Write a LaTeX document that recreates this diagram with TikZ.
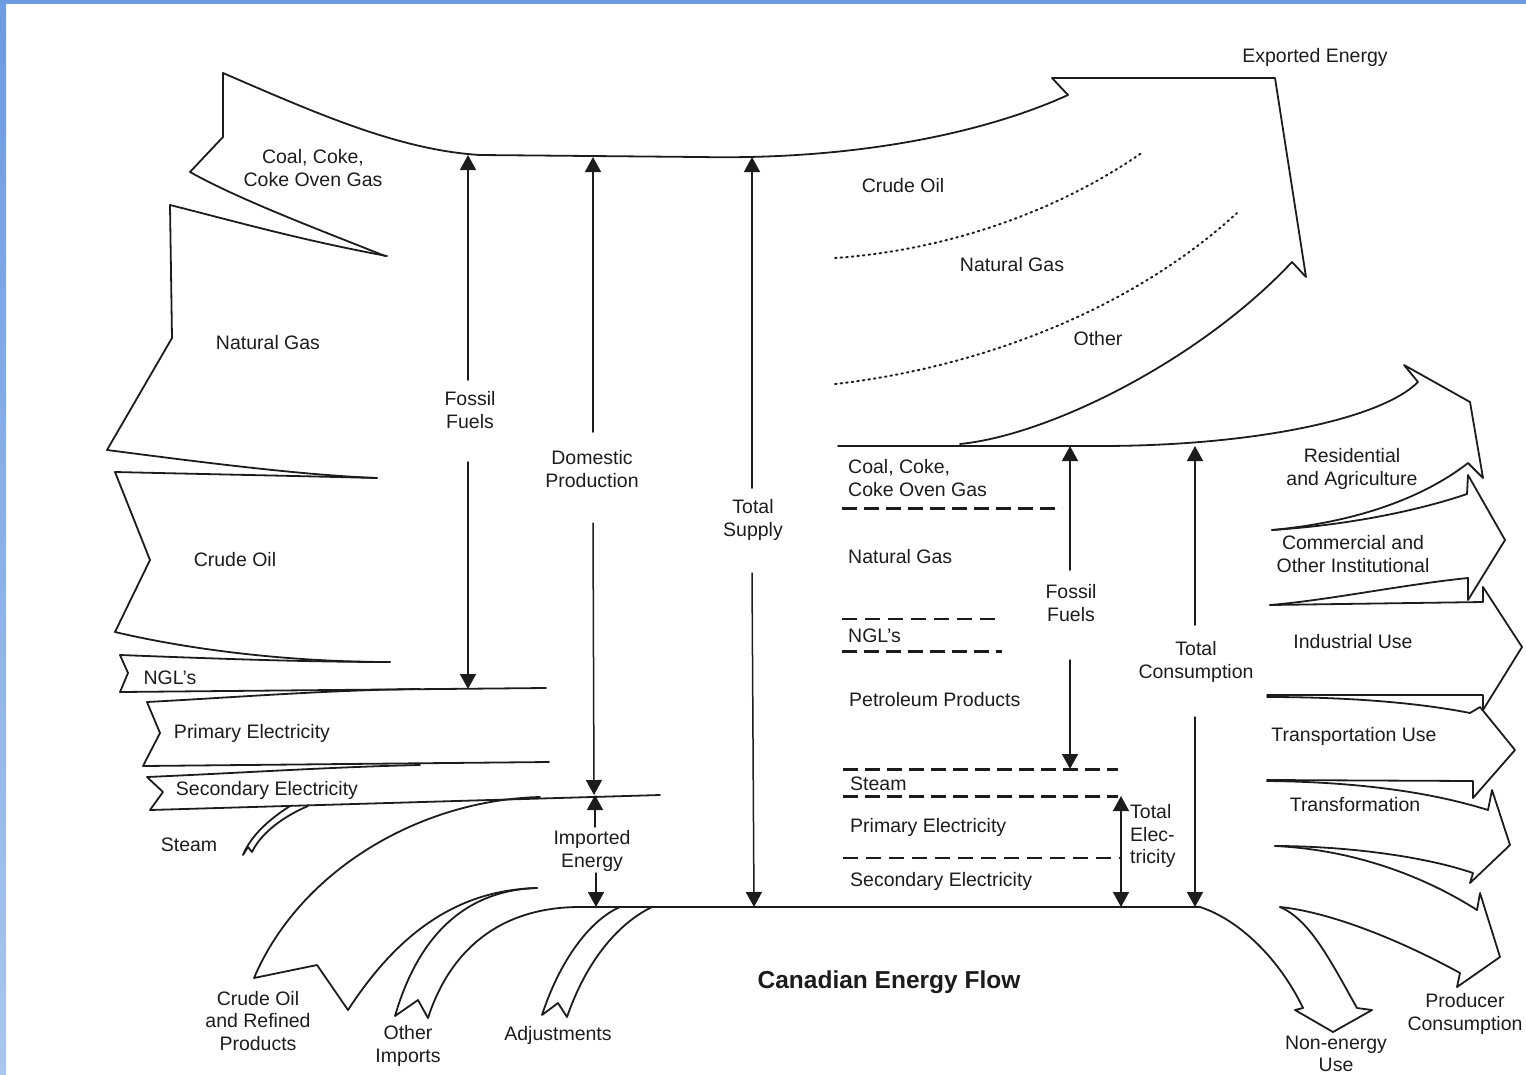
\documentclass[tikz,border=0pt]{standalone}
\usepackage{fontspec}
\setmainfont{Liberation Sans}
\usetikzlibrary{arrows.meta}
\definecolor{ink}{RGB}{28,28,28}
\definecolor{blueA}{RGB}{108,155,225}
\definecolor{blueB}{RGB}{170,198,238}
\begin{document}
\begin{tikzpicture}[x=1pt,y=-1pt,line join=round,line cap=round,
  flow/.style={draw=ink,line width=1.8pt},
  arr/.style={draw=ink,line width=1.5pt,-{Triangle[length=15pt,width=16pt]}},
  thickdash/.style={draw=ink,line width=3pt,line cap=butt,dash pattern=on 15pt off 7pt},
  thindash/.style={draw=ink,line width=2pt,line cap=butt,dash pattern=on 15pt off 8pt},
  dotline/.style={draw=ink,line width=2pt,dash pattern=on 1.6pt off 4pt},
  lbl/.style={font=\fontsize{19.5}{22.5}\selectfont,align=center,inner sep=0pt,text=ink},
  lbll/.style={lbl,align=left,anchor=west},
  ttl/.style={font=\fontsize{24.5}{28}\selectfont\bfseries,inner sep=0pt,text=ink}]
\useasboundingbox (0,0) rectangle (1526,1074);
% blue frame
\shade[top color=blueA,bottom color=blueB] (0,0) rectangle (6,1074);
\fill[blueA] (0,0) rectangle (1526,4);

% ---------- top flow: supply and exports ----------
\draw[flow] (385,256) .. controls (320,230) and (240,200) .. (190,172) -- (223,137) -- (223,73)
  .. controls (320,115) and (400,150) .. (480,155) -- (700,157)
  .. controls (850,160) and (980,135) .. (1068,95) -- (1052,78) -- (1275,78) -- (1306,277) -- (1292,262)
  .. controls (1200,360) and (1050,435) .. (960,444);
\draw[dotline] (835,258) .. controls (950,250) and (1060,210) .. (1143,152);
\draw[dotline] (835,384) .. controls (960,370) and (1120,320) .. (1237,213);

% ---------- left input arrows ----------
\draw[flow] (387,256) .. controls (300,240) and (230,220) .. (170,205) -- (172,338) -- (107,450)
  .. controls (200,462) and (300,475) .. (377,478);
\draw[flow] (377,478) .. controls (300,476) and (200,474) .. (115,472) -- (150,560) -- (115,632)
  .. controls (200,652) and (300,662) .. (390,662);
\draw[flow] (390,662) .. controls (300,662) and (200,658) .. (120,655) -- (128,673) -- (120,692) -- (546,688);
\draw[flow] (420,689) .. controls (330,690) and (240,697) .. (147,702) -- (160,733) -- (143,766) -- (549,762);
\draw[flow] (420,765) .. controls (330,767) and (240,773) .. (147,777) -- (163,792) -- (150,810) -- (660,795);
% steam
\draw[flow] (290,806) .. controls (265,822) and (250,838) .. (243,855) -- (248,847) -- (252,852)
  .. controls (260,835) and (280,818) .. (308,806);
% crude oil and refined products
\draw[flow] (540,797) .. controls (420,800) and (300,870) .. (254,978) -- (317,965) -- (348,1010)
  .. controls (400,930) and (460,890) .. (537,888);
% other imports (left edge)
\draw[flow] (537,888) .. controls (470,890) and (420,930) .. (395,1016) -- (418,1000) -- (428,1018);
% adjustments
\draw[flow] (620,907) .. controls (590,920) and (560,960) .. (542,1015) -- (558,1003) -- (567,1017)
  .. controls (585,965) and (615,925) .. (652,907);
% bottom line, non-energy use
\draw[flow] (428,1018) .. controls (450,950) and (500,907) .. (580,907) -- (1200,907)
  .. controls (1240,920) and (1280,960) .. (1303,1008) -- (1295,1010) -- (1333,1032) -- (1372,1010) -- (1357,1008)
  .. controls (1330,960) and (1310,920) .. (1280,907);

% ---------- consumption fan ----------
\draw[flow] (838,446) -- (1100,446) .. controls (1250,446) and (1380,420) .. (1418,382) -- (1404,365) -- (1470,402) -- (1483,478) -- (1468,463)
  .. controls (1440,485) and (1380,520) .. (1272,530);
\draw[flow] (1272,530) .. controls (1350,525) and (1420,510) .. (1467,494) -- (1468,475) -- (1505,540) -- (1468,600) -- (1468,578)
  .. controls (1400,585) and (1330,600) .. (1270,605);
\draw[flow] (1270,605) -- (1483,602) -- (1483,587) -- (1522,647) -- (1483,710) -- (1483,695) -- (1267,695);
\draw[flow] (1267,697) .. controls (1350,697) and (1420,703) .. (1470,713) -- (1480,707) -- (1515,750) -- (1473,798) -- (1473,781) -- (1267,780);
\draw[flow] (1267,781) .. controls (1370,782) and (1440,795) .. (1488,810) -- (1492,790) -- (1510,845) -- (1470,883) -- (1473,873)
  .. controls (1420,855) and (1340,846) .. (1275,846);
\draw[flow] (1275,846) .. controls (1360,850) and (1430,880) .. (1477,910) -- (1480,893) -- (1500,957) -- (1457,987) -- (1460,973)
  .. controls (1400,940) and (1330,912) .. (1280,907);

% dashed separators
\draw[thickdash] (842,508) -- (1062,508);
\draw[thindash] (842,619) -- (1002,619);
\draw[thickdash] (842,651) -- (1002,651);
\draw[thickdash] (843,769) -- (1118,769);
\draw[thickdash] (843,796) -- (1118,796);
\draw[thindash] (843,858) -- (1120,858);

% ---------- labels ----------
\node[lbl] (coal) at (313,168) {Coal, Coke,\\Coke Oven Gas};
\node[lbl] (ngasL) at (268,343) {Natural Gas};
\node[lbl] (crudeL) at (235,560) {Crude Oil};
\node[lbl] (nglL) at (170,678) {NGL's};
\node[lbl] (primL) at (252,733) {Primary Electricity};
\node[lbl] (secL) at (267,790) {Secondary Electricity};
\node[lbl] (steamL) at (189,845) {Steam};
\node[lbl] (crudeImp) at (258,1021) {Crude Oil\\and Refined\\Products};
\node[lbl] (othImp) at (408,1046) {Other\\Imports};
\node[lbl] (adj) at (558,1035) {Adjustments};
\node[lbl] (ffL) at (470,410) {Fossil\\Fuels};
\node[lbl] (dom) at (592,469) {Domestic\\Production};
\node[lbl] (tsup) at (753,520) {Total\\Supply};
\node[lbl] (imp) at (592,851) {Imported\\Energy};
\node[lbl] (expo) at (1315,57) {Exported Energy};
\node[lbl] (crudeX) at (903,186) {Crude Oil};
\node[lbl] (ngX) at (1012,265) {Natural Gas};
\node[lbl] (othX) at (1098,339) {Other};
\node[lbll] (coalR) at (848,478) {Coal, Coke,\\Coke Oven Gas};
\node[lbll] (ngR) at (848,557) {Natural Gas};
\node[lbll] (nglR) at (848,636) {NGL's};
\node[lbll] (petR) at (849,700) {Petroleum Products};
\node[lbll] (steamR) at (850,784) {Steam};
\node[lbll] (primR) at (850,827) {Primary Electricity};
\node[lbll] (secR) at (850,881) {Secondary Electricity};
\node[lbl] (ffR) at (1071,603) {Fossil\\Fuels};
\node[lbl] (tcons) at (1196,662) {Total\\Consumption};
\node[lbll] (tel) at (1130,836) {Total\\Elec-\\tricity};
\node[lbl] (res) at (1352,469) {Residential\\and Agriculture};
\node[lbl] (com) at (1353,554) {Commercial and\\Other Institutional};
\node[lbl] (ind) at (1353,642) {Industrial Use};
\node[lbl] (tra) at (1354,736) {Transportation Use};
\node[lbl] (tfm) at (1355,805) {Transformation};
\node[lbl] (prod) at (1465,1014) {Producer\\Consumption};
\node[lbl] (nonen) at (1336,1054) {Non-energy\\Use};
\node[ttl] (title) at (889,982) {Canadian Energy Flow};

% ---------- measuring arrows ----------
\coordinate (ffLt) at (468,155); \coordinate (ffLa) at (468,380);
\coordinate (ffLb) at (468,462); \coordinate (ffLe) at (468,689);
\draw[arr] (ffLa) -- (ffLt);  \draw[arr] (ffLb) -- (ffLe);
\coordinate (domt) at (593,157); \coordinate (doma) at (593,432);
\coordinate (domb) at (593,523); \coordinate (dome) at (594,795);
\draw[arr] (doma) -- (domt);  \draw[arr] (domb) -- (dome);
\coordinate (tsupt) at (752,157); \coordinate (tsupa) at (752,488);
\coordinate (tsupb) at (752,573); \coordinate (tsupe) at (754,907);
\draw[arr] (tsupa) -- (tsupt);  \draw[arr] (tsupb) -- (tsupe);
\coordinate (impt) at (595,795); \coordinate (impa) at (595,827);
\coordinate (impb) at (596,873); \coordinate (impe) at (596,907);
\draw[arr] (impa) -- (impt);  \draw[arr] (impb) -- (impe);
\coordinate (ffRt) at (1070,446); \coordinate (ffRa) at (1070,570);
\coordinate (ffRb) at (1070,660); \coordinate (ffRe) at (1070,769);
\draw[arr] (ffRa) -- (ffRt);  \draw[arr] (ffRb) -- (ffRe);
\coordinate (tct) at (1195,446); \coordinate (tca) at (1195,625);
\coordinate (tcb) at (1195,717); \coordinate (tce) at (1195,907);
\draw[arr] (tca) -- (tct);  \draw[arr] (tcb) -- (tce);
\coordinate (telt) at (1121,796); \coordinate (tele) at (1121,907);
\draw[arr,{Triangle[length=15pt,width=16pt]}-{Triangle[length=15pt,width=16pt]}] (telt) -- (tele);
\end{tikzpicture}
\end{document}
